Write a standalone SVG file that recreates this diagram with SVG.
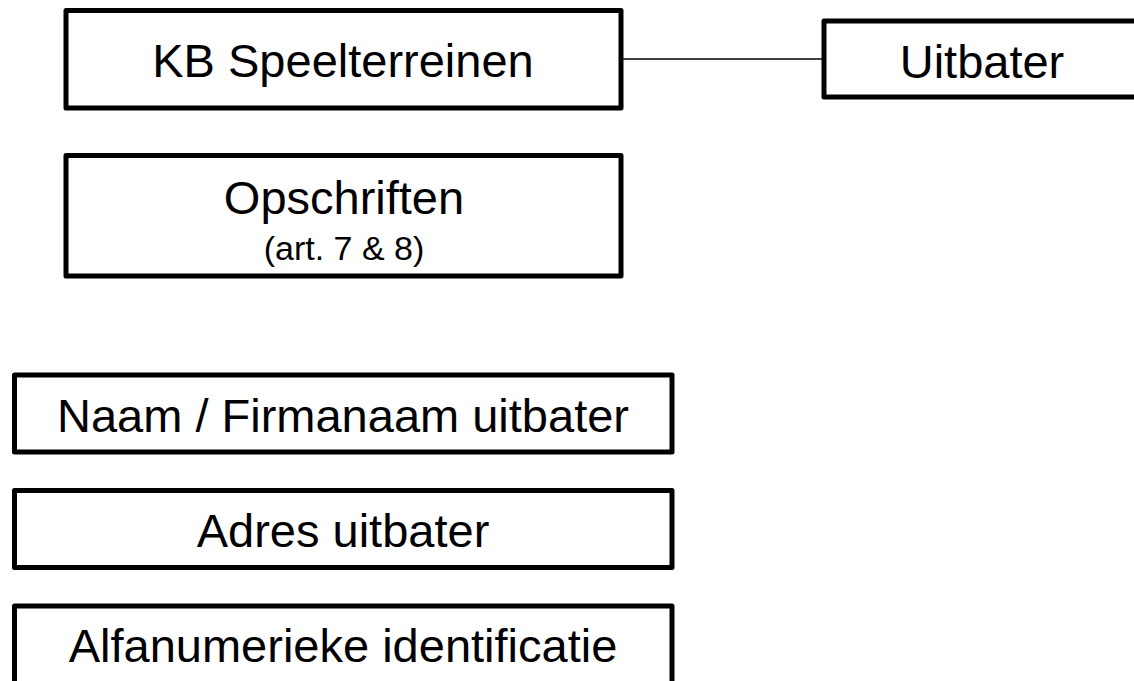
<svg xmlns="http://www.w3.org/2000/svg" width="1134" height="681" viewBox="0 0 1134 681">
<style>
.box{fill:#fff;stroke:#000;stroke-width:5;stroke-linejoin:round}
.t{font-family:"Liberation Sans",Arial,sans-serif;font-size:47px;fill:#000;text-anchor:middle}
.s{font-size:34px}
.conn{stroke:#000;stroke-width:1.5;fill:none}
</style>
<rect width="1134" height="681" fill="#fff"/>
<g id="connectors">
<line class="conn" x1="621" y1="59" x2="824" y2="59"/>
</g>
<g id="kb">
<rect class="box" x="66" y="10.5" width="555" height="97.5"/>
<text class="t" x="343" y="77">KB Speelterreinen</text>
</g>
<g id="uitbater">
<rect class="box" x="824" y="21" width="316" height="76"/>
<text class="t" x="982" y="78">Uitbater</text>
</g>
<g id="opschriften">
<rect class="box" x="66" y="155.5" width="555" height="120.5"/>
<text class="t" x="344" y="214">Opschriften</text>
<text class="t s" x="344" y="260">(art. 7 &amp; 8)</text>
</g>
<g id="naam">
<rect class="box" x="14.5" y="375" width="657.5" height="77"/>
<text class="t" x="343" y="432">Naam / Firmanaam uitbater</text>
</g>
<g id="adres">
<rect class="box" x="14.5" y="490.5" width="657.5" height="77"/>
<text class="t" x="343" y="547">Adres uitbater</text>
</g>
<g id="alfa">
<rect class="box" x="14.5" y="606" width="657.5" height="80"/>
<text class="t" x="343" y="662">Alfanumerieke identificatie</text>
</g>
</svg>
